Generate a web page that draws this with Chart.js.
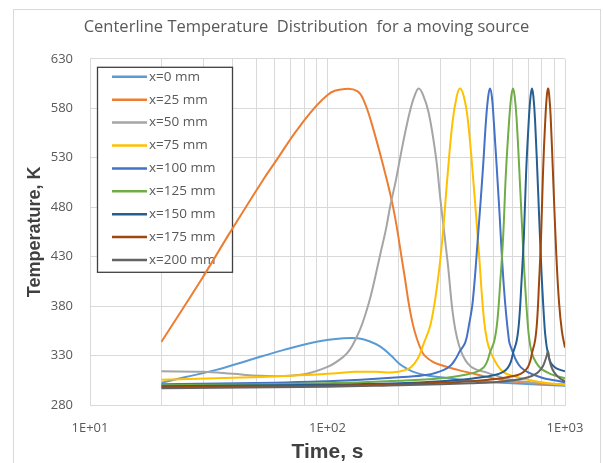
<!DOCTYPE html>
<html>
<head>
<meta charset="utf-8">
<script src="https://cdn.jsdelivr.net/npm/chart.js@4.4.1/dist/chart.umd.min.js"></script>
<style>
  html, body { margin: 0; padding: 0; background: #fff; }
  canvas { display: block; }
</style>
</head>
<body>
<canvas id="tempChart" width="604" height="463"></canvas>
<script>
// values (time in s, temperature in K)
var seriesLabels = ['x=0 mm', 'x=25 mm', 'x=50 mm', 'x=75 mm', 'x=100 mm', 'x=125 mm', 'x=150 mm', 'x=175 mm', 'x=200 mm'];
var xTickLabels = ['1E+01', '1E+02', '1E+03'];
var xGridValues = [10, 20, 30, 40, 50, 60, 70, 80, 90, 100, 200, 300, 400, 500, 600, 700, 800, 900, 1000];

var time0 = [20, 25, 34, 47, 65, 90, 117, 134, 150, 167, 185, 200, 215, 230, 260, 300, 364, 450, 600, 800, 1000];
var temp0 = [302.5, 308, 315.5, 325.5, 335.5, 344, 347.5, 347.5, 344.5, 339, 330, 322, 317, 313.5, 310, 308, 305.5, 303.5, 302, 300.5, 299.5];

var time25 = [20, 29.4, 39, 53.7, 60.4, 76, 100, 119, 134, 142, 152, 172, 190, 209, 228, 251, 272, 291, 354, 430, 537, 700, 1000];
var temp25 = [344, 406.6, 455, 508, 526, 561, 593.5, 599.5, 597, 588, 568, 521, 477, 417, 363, 333, 325, 321.5, 315.5, 310.5, 305.5, 302.5, 300];

var time50 = [20, 30, 40, 52, 77, 100, 117, 125, 131, 138, 145, 152, 159, 167, 176, 184, 194, 203, 213, 224, 233, 242, 252, 267, 286, 300, 321, 340, 364, 401, 473, 592, 800, 1000];
var temp50 = [314, 313.5, 311.5, 309.5, 310.5, 318.5, 329, 337, 346, 358, 373, 390, 410, 433, 457, 482, 507, 532, 557, 580, 593, 600, 594, 575, 531, 484, 423, 366, 335, 319, 312.5, 305.5, 302, 301];

var time75 = [20, 40, 70, 100, 130, 160, 190, 210, 224, 240, 254, 272, 291, 305, 321, 336, 350, 361, 375, 390, 413, 434, 455, 470, 487, 520, 553, 600, 698, 850, 1000];
var temp75 = [305.5, 307.5, 309.5, 311.5, 313.5, 313.5, 313, 315, 318, 327, 342, 362, 405, 450, 515, 566, 592, 600, 592, 568, 501, 434, 368, 345, 333, 320, 313, 309.5, 305.5, 302, 300.5];

var time100 = [20, 60, 100, 138, 200, 264, 309, 330, 345, 362, 380, 395, 409, 430, 451, 465, 475, 483, 492, 501, 527, 553, 581, 595, 604, 620, 652, 700, 800, 900, 1000];
var temp100 = [301, 302.5, 304, 305.5, 308, 310.5, 315.5, 320, 326, 335, 343, 362, 385, 450, 518, 568, 592, 600, 592, 568, 484, 399, 345, 337, 333, 326, 318, 313, 307.5, 305, 303];

var time125 = [20, 100, 200, 300, 380, 424, 454, 470, 483, 504, 519, 534, 549, 564, 582, 594, 604, 614, 626, 649, 674, 699, 714, 725, 740, 770, 800, 850, 900, 1000];
var temp125 = [300, 302, 304.5, 307, 310.5, 313.5, 318, 324, 333, 345, 365, 405, 450, 515, 568, 592, 600, 592, 568, 495, 415, 358, 340, 333, 327, 320, 316, 312.5, 310, 307];

var time150 = [20, 100, 200, 300, 400, 500, 550, 576, 592, 605, 626, 641, 656, 671, 686, 704, 716, 726, 736, 748, 771, 796, 821, 836, 847, 860, 880, 920, 1000];
var temp150 = [299, 300.5, 302, 304, 306.5, 310, 313.5, 318, 324, 333, 345, 365, 405, 450, 515, 568, 592, 600, 592, 568, 495, 415, 358, 340, 333, 326, 321, 317, 314];

var time175 = [20, 100, 200, 300, 400, 500, 600, 650, 680, 700, 715, 727, 748, 763, 778, 793, 808, 826, 838, 848, 858, 870, 893, 918, 943, 970, 1000];
var temp175 = [298, 299.5, 301, 302.5, 304, 306, 309, 311.5, 315, 319, 325, 333, 345, 365, 405, 450, 515, 568, 592, 600, 593, 572, 505, 435, 385, 355, 338];

var time200 = [20, 100, 200, 300, 400, 500, 600, 700, 760, 790, 810, 825, 838, 848, 860, 875, 900, 950, 1000];
var temp200 = [297, 298.5, 300, 301, 302, 303, 305, 308, 312, 316, 320, 325, 330, 334, 326, 319, 313, 307, 304];

var seriesTimes = [time0, time25, time50, time75, time100, time125, time150, time175, time200];
var seriesTemps = [temp0, temp25, temp50, temp75, temp100, temp125, temp150, temp175, temp200];
var seriesColors = ['#5B9BD5', '#ED7D31', '#A5A5A5', '#FFC000', '#4472C4', '#70AD47', '#255E91', '#9E480E', '#636363'];

var datasets = seriesLabels.map(function (label, i) {
    return {
        label: label,
        data: seriesTimes[i].map(function (t, j) { return { x: t, y: seriesTemps[i][j] }; }),
        borderColor: seriesColors[i],
        backgroundColor: seriesColors[i],
        borderWidth: 2,
        pointRadius: 0,
        tension: 0.4,
        fill: false,
        order: -i   // later series on top, like the original
    };
});

// outer frame of the chart
var framePlugin = {
    id: 'frame',
    beforeDraw: function (chart) {
        var ctx = chart.ctx;
        ctx.save();
        ctx.fillStyle = '#fff';
        ctx.fillRect(0, 0, chart.width, chart.height);
        ctx.strokeStyle = '#D9D9D9';
        ctx.lineWidth = 1;
        ctx.strokeRect(13.5, 9.5, 587, 460);
        ctx.restore();
    }
};

// boxed legend inside the plot, drawn under the lines
var boxLegend = {
    id: 'boxLegend',
    beforeDatasetsDraw: function (chart) {
        var ctx = chart.ctx;
        var area = chart.chartArea;
        var left = area.left + 7, top = area.top + 8, w = 135, h = 205;
        ctx.save();
        ctx.fillStyle = '#fff';
        ctx.fillRect(left, top, w, h);
        ctx.strokeStyle = '#404040';
        ctx.lineWidth = 1.3;
        ctx.strokeRect(left + 0.5, top + 0.5, w, h);
        ctx.font = '13.5px "Open Sans"';
        ctx.textBaseline = 'middle';
        ctx.fillStyle = '#595959';
        chart.data.datasets.forEach(function (ds, i) {
            var y = top + 10 + i * 22.9;
            ctx.strokeStyle = ds.borderColor;
            ctx.lineWidth = 2.5;
            ctx.beginPath();
            ctx.moveTo(left + 15, y);
            ctx.lineTo(left + 50, y);
            ctx.stroke();
            ctx.fillText(ds.label, left + 52, y);
        });
        ctx.restore();
    }
};

var ctx = document.getElementById('tempChart').getContext('2d');
var chart = new Chart(ctx, {
    type: 'line',
    data: { datasets: datasets },
    options: {
        responsive: false,
        animation: false,
        layout: { padding: { left: 13, right: 4, top: 10, bottom: 0 } },
        plugins: {
            legend: { display: false },
            tooltip: { enabled: false },
            title: {
                display: true,
                text: 'Centerline Temperature  Distribution  for a moving source',
                color: '#595959',
                font: { family: '"Open Sans"', size: 16.5, weight: 'normal', lineHeight: 1.2 },
                padding: { top: 7, bottom: 22 }
            }
        },
        scales: {
            x: {
                type: 'logarithmic',
                min: 10,
                max: 1000,
                afterBuildTicks: function (s) {
                    s.ticks = xGridValues.map(function (v) { return { value: v }; });
                },
                grid: { color: '#D9D9D9', drawTicks: false, tickLength: 0 },
                border: { color: '#D9D9D9' },
                ticks: {
                    autoSkip: false,
                    maxRotation: 0,
                    padding: 15,
                    color: '#595959',
                    font: { family: '"Open Sans"', size: 13 },
                    callback: function (v) {
                        var e = Math.round(Math.log10(v));
                        if (Math.abs(v - Math.pow(10, e)) < 1e-6) {
                            return xTickLabels[e - 1];
                        }
                        return '';
                    }
                },
                title: {
                    display: true,
                    text: 'Time, s',
                    color: '#404040',
                    font: { family: '"Liberation Sans"', size: 21, weight: 'bold', lineHeight: 1 },
                    padding: { top: 0, bottom: 0 }
                },
                afterFit: function (s) { s.height = 58; }
            },
            y: {
                min: 280,
                max: 630,
                grid: { color: '#D9D9D9', drawTicks: false, tickLength: 0 },
                border: { color: '#D9D9D9' },
                ticks: {
                    stepSize: 50,
                    padding: 17,
                    color: '#595959',
                    font: { family: '"Open Sans"', size: 13 }
                },
                title: {
                    display: true,
                    text: 'Temperature, K',
                    color: '#404040',
                    font: { family: '"Liberation Sans"', size: 18, weight: 'bold', lineHeight: 1.2 },
                    padding: { top: 11, bottom: 0 }
                },
                afterFit: function (s) { s.width = 77; }
            },
            yRight: {
                position: 'right',
                display: true,
                grid: { display: false },
                border: { display: false },
                ticks: { display: false },
                afterFit: function (s) { s.width = 35; }
            }
        }
    },
    plugins: [framePlugin, boxLegend]
});
</script>
</body>
</html>
